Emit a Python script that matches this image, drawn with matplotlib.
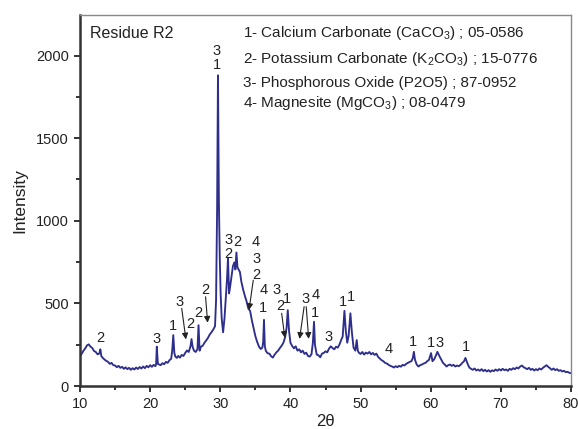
import numpy as np
import matplotlib
matplotlib.use('Agg')
import matplotlib.pyplot as plt
from matplotlib.ticker import MultipleLocator

plt.rcParams['font.family'] = ['Liberation Sans', 'DejaVu Sans']
plt.rcParams['mathtext.fontset'] = 'custom'
plt.rcParams['mathtext.rm'] = 'Liberation Sans'
plt.rcParams['mathtext.it'] = 'Liberation Sans'

# XRD pattern of residue R2 (2-theta in degrees, counts)
two_theta = [
    10.00, 10.25, 10.50, 10.75, 11.00, 11.25, 11.50, 11.75, 12.00, 12.25, 12.50, 12.75, 12.90, 13.05,
    13.25, 13.50, 13.75, 14.00, 14.25, 14.50, 14.75, 15.00, 15.25, 15.50, 15.75, 16.00, 16.25, 16.50,
    16.75, 17.00, 17.25, 17.50, 17.75, 18.00, 18.25, 18.50, 18.75, 19.00, 19.25, 19.50, 19.75, 20.00,
    20.25, 20.50, 20.75, 20.85, 20.95, 21.10, 21.50, 21.75, 22.00, 22.25, 22.50, 22.75, 23.00, 23.15,
    23.30, 23.45, 23.60, 23.80, 24.00, 24.25, 24.50, 24.75, 25.00, 25.25, 25.50, 25.75, 25.90, 26.05,
    26.25, 26.50, 26.75, 26.90, 27.05, 27.25, 27.50, 27.75, 28.00, 28.25, 28.50, 28.75, 29.00, 29.25,
    29.40, 29.55, 29.67, 29.80, 29.92, 30.05, 30.20, 30.40, 30.60, 30.80, 30.95, 31.10, 31.25, 31.40,
    31.60, 31.80, 32.00, 32.15, 32.30, 32.45, 32.60, 32.80, 33.00, 33.25, 33.50, 33.75, 34.00, 34.25,
    34.50, 34.75, 35.00, 35.25, 35.50, 35.75, 36.00, 36.12, 36.23, 36.35, 36.50, 36.75, 37.00, 37.25,
    37.50, 37.75, 38.00, 38.25, 38.50, 38.75, 39.00, 39.25, 39.45, 39.62, 39.80, 40.00, 40.25, 40.50,
    40.75, 41.00, 41.25, 41.50, 41.75, 42.00, 42.25, 42.50, 42.75, 43.00, 43.20, 43.36, 43.50, 43.75,
    44.00, 44.25, 44.50, 44.75, 45.00, 45.25, 45.50, 45.75, 46.00, 46.25, 46.50, 46.75, 47.00, 47.25,
    47.45, 47.70, 47.90, 48.10, 48.30, 48.55, 48.75, 49.00, 49.25, 49.45, 49.60, 49.75, 50.00, 50.25,
    50.50, 50.75, 51.00, 51.25, 51.50, 51.75, 52.00, 52.25, 52.50, 52.75, 53.00, 53.25, 53.50, 53.75,
    54.00, 54.25, 54.50, 54.75, 55.00, 55.25, 55.50, 55.75, 56.00, 56.25, 56.50, 56.75, 57.00, 57.25,
    57.45, 57.60, 57.75, 58.00, 58.25, 58.50, 58.75, 59.00, 59.25, 59.50, 59.75, 60.05, 60.25, 60.50,
    60.75, 60.95, 61.25, 61.50, 61.75, 62.00, 62.25, 62.50, 62.75, 63.00, 63.25, 63.50, 63.75, 64.00,
    64.25, 64.50, 64.75, 64.95, 65.25, 65.50, 65.75, 66.00, 66.25, 66.50, 66.75, 67.00, 67.25, 67.50,
    67.75, 68.00, 68.25, 68.50, 68.75, 69.00, 69.25, 69.50, 69.75, 70.00, 70.25, 70.50, 70.75, 71.00,
    71.25, 71.50, 71.75, 72.00, 72.25, 72.50, 72.75, 73.00, 73.25, 73.50, 73.75, 74.00, 74.25, 74.50,
    74.75, 75.00, 75.25, 75.50, 75.75, 76.00, 76.25, 76.50, 76.75, 77.00, 77.25, 77.50, 77.75, 78.00,
    78.25, 78.50, 78.75, 79.00, 79.25, 79.50, 79.75, 80.00,
]
counts = [
    178, 196, 214, 228, 246, 252, 238, 230, 212, 206, 192, 196, 222, 180,
    170, 160, 152, 146, 134, 140, 126, 124, 114, 122, 110, 116, 104, 113,
    102, 110, 98, 108, 100, 112, 103, 115, 106, 118, 108, 122, 113, 126,
    116, 128, 120, 130, 238, 134, 126, 138, 132, 146, 140, 156, 165, 215,
    308, 200, 178, 170, 182, 172, 188, 182, 200, 215, 206, 240, 284, 238,
    214, 206, 224, 368, 214, 238, 244, 262, 276, 292, 312, 326, 342, 362,
    520, 1080, 1880, 1120, 790, 560, 410, 325, 410, 540, 640, 775, 560, 600,
    665, 725, 748, 705, 808, 718, 706, 690, 632, 585, 546, 512, 468, 455,
    398, 350, 302, 268, 240, 224, 232, 270, 400, 240, 212, 198, 196, 180,
    172, 190, 204, 214, 230, 244, 262, 296, 352, 459, 335, 262, 242, 228,
    240, 214, 222, 204, 214, 194, 202, 182, 178, 192, 262, 389, 248, 190,
    186, 174, 196, 200, 210, 204, 226, 240, 230, 222, 238, 232, 252, 280,
    300, 455, 330, 262, 305, 440, 330, 232, 214, 278, 214, 202, 194, 206,
    190, 202, 196, 206, 192, 200, 188, 196, 176, 166, 156, 150, 140, 136,
    128, 122, 118, 112, 120, 114, 122, 117, 128, 124, 134, 140, 146, 150,
    170, 207, 160, 130, 118, 126, 130, 136, 140, 150, 158, 199, 150, 162,
    186, 207, 180, 160, 140, 130, 118, 126, 130, 122, 128, 118, 124, 120,
    128, 140, 150, 170, 135, 112, 104, 98, 106, 94, 100, 92, 102, 90,
    98, 88, 96, 86, 95, 90, 100, 92, 102, 94, 104, 96, 100, 92,
    104, 98, 108, 102, 112, 106, 118, 124, 114, 108, 102, 110, 98, 104,
    94, 102, 96, 106, 100, 110, 118, 126, 116, 108, 98, 106, 96, 102,
    92, 96, 88, 92, 84, 86, 80, 78,
]

# phase index labels (1 CaCO3, 2 K2CO3, 3 P2O5, 4 MgCO3) and where they sit
peak_labels = ['2', '3', '1', '3', '2', '2', '2', '3', '1', '3', '2', '2',
               '4', '3', '2', '4', '1', '3', '2', '1', '3', '4', '1', '3',
               '1', '1', '4', '1', '1', '3', '1']
label_x = [12.85, 20.93, 23.2, 24.26, 25.78, 26.82, 27.82, 29.53, 29.53, 31.15, 32.43, 31.2,
           35.09, 35.1, 35.1, 36.14, 36.14, 38.04, 38.6, 39.56, 42.22, 43.65, 43.5, 45.5,
           47.54, 48.6, 53.96, 57.43, 60.1, 61.25, 65.0]
label_y = [290, 284, 362, 510, 375, 443, 580, 2030, 1940, 882, 872, 797,
           872, 766, 671, 580, 470, 580, 483, 524, 524, 550, 443, 298,
           510, 540, 222, 268, 258, 258, 238]

# arrows: (tail 2theta, tail counts) -> (head 2theta, head counts)
arrow_tail_x = [24.5, 27.9, 34.7, 38.75, 41.95, 42.25]
arrow_tail_y = [470, 540, 640, 440, 480, 480]
arrow_head_x = [25.1, 28.2, 34.1, 39.2, 41.3, 42.6]
arrow_head_y = [282, 383, 460, 292, 285, 285]

legend_lines = [
    '1- Calcium Carbonate (CaCO$_3$) ; 05-0586',
    '2- Potassium Carbonate (K$_2$CO$_3$) ; 15-0776',
    '3- Phosphorous Oxide (P2O5) ; 87-0952',
    '4- Magnesite (MgCO$_3$) ; 08-0479',
]
legend_y = [0.951, 0.881, 0.817, 0.763]

fig = plt.figure(figsize=(5.78, 4.29), dpi=100)
ax = fig.add_axes([0.1384, 0.1002, 0.8495, 0.8648])

ax.plot(two_theta, counts, color='#2e2e8c', lw=1.35)

for t, x, y in zip(peak_labels, label_x, label_y):
    ax.text(x, y, t, ha='center', va='center', fontsize=10.5, color='#222222')

for x0, y0, x1, y1 in zip(arrow_tail_x, arrow_tail_y, arrow_head_x, arrow_head_y):
    ax.annotate('', xy=(x1, y1), xytext=(x0, y0),
                arrowprops=dict(arrowstyle='-|>', color='#222222', lw=0.8,
                                mutation_scale=9, shrinkA=0, shrinkB=0))

ax.text(0.02, 0.951, 'Residue R2', transform=ax.transAxes, fontsize=11.5,
        ha='left', va='center', color='#222222')
for s, y in zip(legend_lines, legend_y):
    ax.text(0.332, y, s, transform=ax.transAxes,
            fontsize=11, ha='left', va='center', color='#222222')

ax.set_xlim(10, 80)
ax.set_ylim(0, 2245)
ax.xaxis.set_major_locator(MultipleLocator(10))
ax.xaxis.set_minor_locator(MultipleLocator(5))
ax.yaxis.set_major_locator(MultipleLocator(500))
ax.yaxis.set_minor_locator(MultipleLocator(250))
ax.tick_params(which='both', direction='out', width=1.4, colors='#333333',
               labelsize=10.5, labelcolor='#222222', top=False, right=False)
ax.tick_params(which='major', length=4.5)
ax.tick_params(which='minor', length=3)

for side in ['left', 'bottom']:
    ax.spines[side].set_linewidth(1.8)
    ax.spines[side].set_color('#333333')
for side in ['top', 'right']:
    ax.spines[side].set_linewidth(1.0)
    ax.spines[side].set_color('#888888')

ax.set_xlabel('2θ', fontsize=12, color='#222222', labelpad=2)
ax.set_ylabel('Intensity', fontsize=12.5, color='#222222', labelpad=6)

fig.savefig('out.png', dpi=100)
